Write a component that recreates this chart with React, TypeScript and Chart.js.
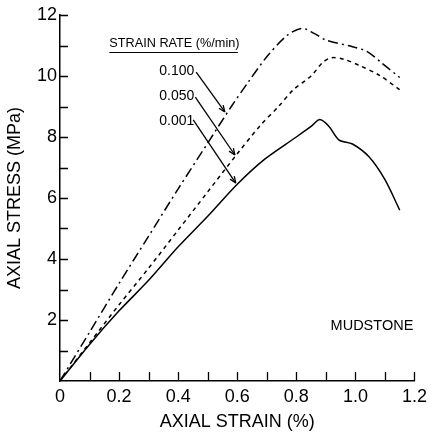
import React, { useEffect, useRef } from "react";
import { Chart, registerables } from "chart.js";

Chart.register(...registerables);

// strain (%) / stress (MPa) readings for each strain rate
const strain100 = [0, 0.1, 0.2, 0.3, 0.4, 0.5, 0.58, 0.635, 0.7, 0.77, 0.82, 0.86, 0.9, 0.99, 1.04, 1.09, 1.15];
const stress100 = [0, 1.6, 3.2, 4.75, 6.3, 7.8, 9.0, 9.77, 10.63, 11.34, 11.56, 11.4, 11.18, 10.96, 10.8, 10.42, 9.95];

const strain050 = [0, 0.1, 0.2, 0.3, 0.4, 0.5, 0.6, 0.68, 0.74, 0.79, 0.85, 0.89, 0.92, 0.96, 1.01, 1.08, 1.15];
const stress050 = [0, 1.25, 2.5, 3.7, 4.95, 6.2, 7.45, 8.4, 9.0, 9.55, 10.0, 10.45, 10.6, 10.55, 10.36, 10.03, 9.55];

const strain001 = [0, 0.1, 0.2, 0.3, 0.4, 0.5, 0.6, 0.69, 0.8, 0.85, 0.88, 0.91, 0.945, 0.99, 1.046, 1.1, 1.15];
const stress001 = [0, 1.2, 2.3, 3.3, 4.4, 5.4, 6.45, 7.25, 8.0, 8.35, 8.57, 8.35, 7.9, 7.77, 7.35, 6.6, 5.6];

const rateLabels = ["0.100", "0.050", "0.001"];
const legendTitle = "STRAIN RATE (%/min)";
const rockLabel = "MUDSTONE";
const xTitle = "AXIAL STRAIN (%)";
const yTitle = "AXIAL STRESS (MPa)";

// annotation anchors in data units
const labelY = [10.16, 9.34, 8.51];
const labelRightX = 0.4545;
const arrowFrom = [[0.461, 10.13], [0.458, 9.31], [0.451, 8.56]];
const arrowTo = [[0.558, 8.82], [0.592, 7.41], [0.595, 6.49]];
const legendTitlePos = [0.167, 11.05];
const legendUnderline = [0.167, 0.602, 10.79];
const rockPos = [0.916, 1.8];

const FONT = "'Liberation Sans', Arial, Helvetica, sans-serif";

const pts = (xs: number[], ys: number[]) => xs.map((x, i) => ({ x, y: ys[i] }));

const overlay = {
  id: "overlay",
  afterDraw(chart: any) {
    const { ctx, scales } = chart;
    const xs = scales.x;
    const ys = scales.y;
    const X = (v: number) => xs.getPixelForValue(v);
    const Y = (v: number) => ys.getPixelForValue(v);
    ctx.save();
    ctx.strokeStyle = "#000";
    ctx.fillStyle = "#000";
    // inward ticks
    ctx.lineWidth = 1.3;
    ctx.beginPath();
    for (let v = 1; v <= 12; v++) {
      const py = Math.round(Y(v)) + 0.5;
      ctx.moveTo(X(0), py);
      ctx.lineTo(X(0) + 8, py);
    }
    for (let i = 1; i <= 12; i++) {
      const px = Math.round(X(i / 10)) + 0.5;
      ctx.moveTo(px, Y(0));
      ctx.lineTo(px, Y(0) - 9);
    }
    ctx.stroke();

    // legend title
    ctx.font = `12.7px ${FONT}`;
    ctx.textBaseline = "middle";
    ctx.textAlign = "left";
    ctx.fillText(legendTitle, X(legendTitlePos[0]), Y(legendTitlePos[1]));
    ctx.lineWidth = 1.1;
    ctx.beginPath();
    ctx.moveTo(X(legendUnderline[0]), Math.round(Y(legendUnderline[2])) + 0.5);
    ctx.lineTo(X(legendUnderline[1]), Math.round(Y(legendUnderline[2])) + 0.5);
    ctx.stroke();

    // rate labels and arrows
    ctx.font = `14px ${FONT}`;
    ctx.textAlign = "right";
    rateLabels.forEach((t, i) => {
      ctx.fillText(t, X(labelRightX), Y(labelY[i]));
      const x1 = X(arrowFrom[i][0]);
      const y1 = Y(arrowFrom[i][1]);
      const x2 = X(arrowTo[i][0]);
      const y2 = Y(arrowTo[i][1]);
      ctx.lineWidth = 1.3;
      ctx.beginPath();
      ctx.moveTo(x1, y1);
      ctx.lineTo(x2, y2);
      ctx.stroke();
      const a = Math.atan2(y2 - y1, x2 - x1);
      const L = 7;
      const w = 0.38;
      ctx.beginPath();
      ctx.moveTo(x2, y2);
      ctx.lineTo(x2 - L * Math.cos(a - w), y2 - L * Math.sin(a - w));
      ctx.moveTo(x2, y2);
      ctx.lineTo(x2 - L * Math.cos(a + w), y2 - L * Math.sin(a + w));
      ctx.stroke();
    });

    ctx.font = `14.5px ${FONT}`;
    ctx.textAlign = "left";
    ctx.fillText(rockLabel, X(rockPos[0]), Y(rockPos[1]));
    ctx.restore();
  },
};

export default function App() {
  const ref = useRef<HTMLCanvasElement>(null);
  useEffect(() => {
    if (!ref.current) return;
    const line = (xs: number[], ys: number[], dash: number[], label: string) => ({
      label,
      data: pts(xs, ys),
      borderColor: "#000",
      backgroundColor: "#000",
      borderWidth: 1.5,
      borderDash: dash,
      pointRadius: 0,
      tension: 0.3,
      showLine: true,
      fill: false,
    });
    const chart = new Chart(ref.current, {
      type: "scatter",
      data: {
        datasets: [
          line(strain100, stress100, [10, 4, 2, 4], rateLabels[0]),
          line(strain050, stress050, [4, 4], rateLabels[1]),
          line(strain001, stress001, [], rateLabels[2]),
        ],
      },
      options: {
        animation: false,
        responsive: false,
        layout: { padding: { left: 0, right: 13, top: 15, bottom: 0 } },
        plugins: { legend: { display: false }, tooltip: { enabled: false } },
        scales: {
          x: {
            type: "linear",
            min: 0,
            max: 1.2,
            afterFit: (s: any) => { s.height = 52; },
            grid: { display: false, drawTicks: false },
            border: { display: true, color: "#000", width: 1.5 },
            ticks: {
              stepSize: 0.2,
              padding: 5,
              color: "#000",
              font: { family: FONT, size: 18 },
              callback: (v: any) => (Number(v) === 0 ? "0" : Number(v).toFixed(1)),
            },
            title: { display: true, text: xTitle, color: "#000", font: { family: FONT, size: 18 }, padding: { top: 0, bottom: 0 } },
          },
          y: {
            type: "linear",
            min: 0,
            max: 12,
            afterFit: (s: any) => { s.width = 60; },
            grid: { display: false, drawTicks: false },
            border: { display: true, color: "#000", width: 1.5 },
            ticks: {
              stepSize: 2,
              padding: 3,
              color: "#000",
              font: { family: FONT, size: 18 },
              callback: (v: any) => (Number(v) === 0 ? "" : String(v)),
            },
            title: { display: true, text: yTitle, color: "#000", font: { family: FONT, size: 18 }, padding: { top: 4, bottom: 0 } },
          },
        },
      },
      plugins: [overlay],
    } as any);
    return () => chart.destroy();
  }, []);
  return (
    <div style={{ position: "absolute", left: 0, top: 0, width: 432, height: 433, background: "#fff" }}>
      <canvas ref={ref} width={432} height={433} />
    </div>
  );
}
